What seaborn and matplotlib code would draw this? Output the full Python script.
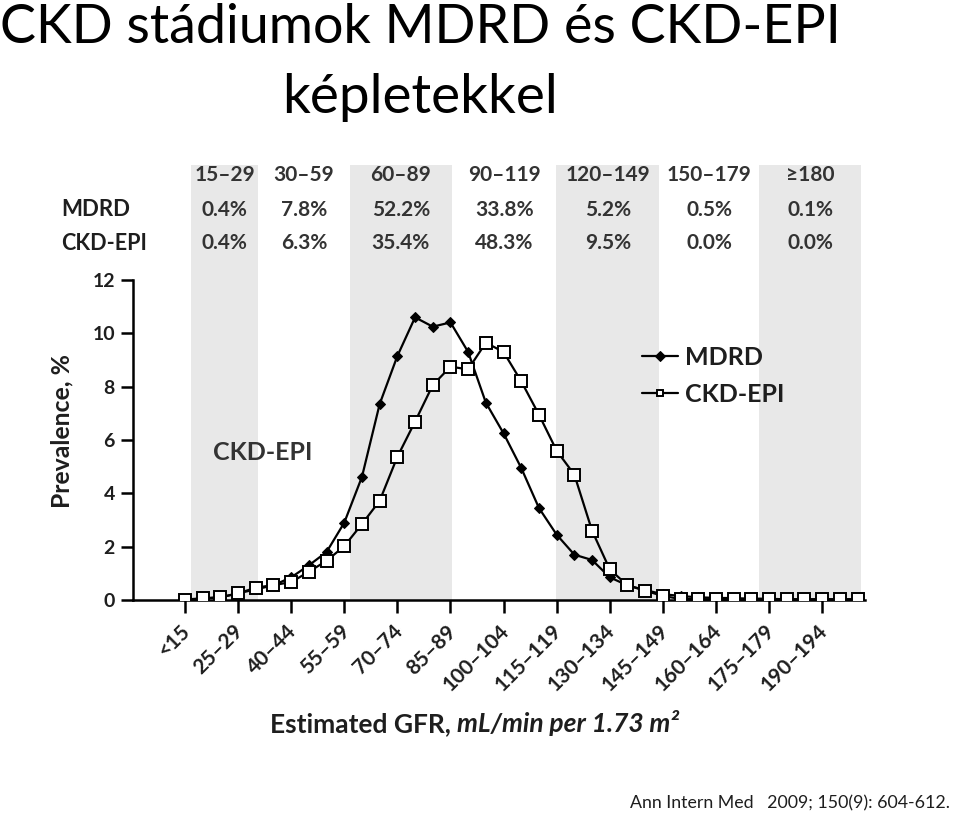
import matplotlib
matplotlib.use("Agg")
import matplotlib.pyplot as plt
import matplotlib.transforms as mtransforms
import numpy as np
import pandas as pd
import seaborn as sns

# ---------------- data ----------------
bin_index = list(range(39))
mdrd = [0.02, 0.06, 0.10, 0.25, 0.40, 0.55, 0.85, 1.30, 1.80, 2.90,
        4.62, 7.35, 9.15, 10.60, 10.25, 10.41,
        9.30, 7.40, 6.25, 4.95, 3.45, 2.45,
        1.70, 1.50, 0.85, 0.55, 0.37, 0.22,
        0.15, 0.10, 0.08, 0.07, 0.05, 0.05,
        0.02, 0.02, 0.02, 0.02, 0.02]
ckd_epi = [0.00, 0.06, 0.10, 0.25, 0.46, 0.56, 0.67, 1.06, 1.47, 2.02,
           2.85, 3.72, 5.37, 6.69, 8.06, 8.75,
           8.65, 9.65, 9.30, 8.20, 6.95, 5.60,
           4.70, 2.60, 1.15, 0.55, 0.35, 0.15,
           0.04, 0.03, 0.03, 0.03, 0.03, 0.03,
           0.03, 0.03, 0.03, 0.03, 0.03]
tick_positions = [0, 3, 6, 9, 12, 15, 18, 21, 24, 27, 30, 33, 36]
tick_labels = ["<15", "25–29", "40–44", "55–59", "70–74", "85–89", "100–104",
               "115–119", "130–134", "145–149", "160–164", "175–179", "190–194"]
y_ticks = [0, 2, 4, 6, 8, 10, 12]

stage_labels = ["15–29", "30–59", "60–89", "90–119", "120–149", "150–179", "≥180"]
mdrd_pct = ["0.4%", "7.8%", "52.2%", "33.8%", "5.2%", "0.5%", "0.1%"]
ckd_pct = ["0.4%", "6.3%", "35.4%", "48.3%", "9.5%", "0.0%", "0.0%"]
# stage column boundaries on the bin-index axis
stage_bounds = [0.34, 4.12, 9.31, 15.07, 20.99, 26.81, 32.45, 38.21]
shaded_stages = [0, 2, 4, 6]

df = pd.DataFrame({"bin": bin_index * 2,
                   "prev": mdrd + ckd_epi,
                   "method": ["MDRD"] * len(mdrd) + ["CKD-EPI"] * len(ckd_epi)})

# ---------------- style ----------------
sns.set_theme(style="white")
plt.rcParams["font.family"] = ["Lato", "DejaVu Sans"]
TXT = "#1e1e1e"
GRAY = "#e8e8e8"

fig = plt.figure(figsize=(9.6, 8.14), dpi=100)
ax = fig.add_axes([0.1385, 0.2629, 0.7625, 0.3931])

# shaded stage bands (extend up into the table)
for i in shaded_stages:
    ax.axvspan(stage_bounds[i], stage_bounds[i + 1], ymin=0, ymax=1.359,
               color=GRAY, lw=0, zorder=0, clip_on=False)

sub_m = df[df.method == "MDRD"]
sub_c = df[df.method == "CKD-EPI"]
sns.lineplot(data=sub_m, x="bin", y="prev", ax=ax, color="black", lw=1.6,
             marker="D", markersize=5, markeredgecolor="black",
             markerfacecolor="black", label="MDRD", zorder=3)
sns.lineplot(data=sub_c, x="bin", y="prev", ax=ax, color="black", lw=1.6,
             marker="s", markersize=8, markeredgecolor="black",
             markerfacecolor="white", markeredgewidth=1.4,
             label="CKD-EPI", zorder=4)

ax.set_xlim(-2.94, 38.42)
ax.set_ylim(0, 12)
ax.set_xlabel("")
ax.set_ylabel("")
ax.set_yticks(y_ticks)
ax.set_yticklabels([str(v) for v in y_ticks], fontsize=14, fontweight="bold", color=TXT)
ax.set_xticks(tick_positions)
ax.set_xticklabels(tick_labels, rotation=45, ha="right", rotation_mode="anchor",
                   fontsize=15, fontweight="bold", color=TXT)
ax.tick_params(axis="both", direction="out", length=9, width=1.8, color="black",
               bottom=True, left=True)
ax.tick_params(axis="x", pad=4)
ax.tick_params(axis="y", pad=4)
offset = mtransforms.ScaledTranslation(-0.05, -0.03, fig.dpi_scale_trans)
for lbl in ax.get_xticklabels():
    lbl.set_transform(lbl.get_transform() + offset)
for s in ["top", "right"]:
    ax.spines[s].set_visible(False)
for s in ["left", "bottom"]:
    ax.spines[s].set_color("black")
    ax.spines[s].set_linewidth(1.8)
ax.patch.set_alpha(0)

leg = ax.legend(loc="center left", bbox_to_anchor=(0.695, 0.70), frameon=False,
                prop={"size": 18, "weight": "bold"}, handlelength=1.45,
                handletextpad=0.3, labelspacing=0.55, borderpad=0, borderaxespad=0)
for t in leg.get_texts():
    t.set_color(TXT)
for h in leg.legend_handles:
    h.set_markersize(5)

ax.text(0.11, 0.46, "CKD-EPI", transform=ax.transAxes, fontsize=18,
        fontweight="bold", color="#333333", ha="left", va="center")

# table above plot
trans = mtransforms.blended_transform_factory(ax.transData, ax.transAxes)
for i, lab in enumerate(stage_labels):
    cx = (stage_bounds[i] + stage_bounds[i + 1]) / 2
    ax.text(cx, 1.328, lab, transform=trans, ha="center", va="center",
            fontsize=15, fontweight="bold", color="#333333")
    ax.text(cx, 1.219, mdrd_pct[i], transform=trans, ha="center", va="center",
            fontsize=15, fontweight="bold", color="#333333")
    ax.text(cx, 1.116, ckd_pct[i], transform=trans, ha="center", va="center",
            fontsize=15, fontweight="bold", color="#333333")
fig.text(0.064, 1 - 210 / 814, "MDRD", ha="left", va="center", fontsize=16,
         fontweight="bold", color=TXT)
fig.text(0.064, 1 - 243 / 814, "CKD-EPI", ha="left", va="center", fontsize=15.5,
         fontweight="bold", color=TXT)

# axis labels
fig.text(0.0646, 0.4705, "Prevalence, %", rotation=90, ha="center", va="center",
         fontsize=17.8, fontweight="bold", color=TXT)
fig.canvas.draw()
r = fig.canvas.get_renderer()
t1 = fig.text(270 / 960, 0.1007, "Estimated GFR, ", ha="left", va="baseline",
              fontsize=19, fontweight="bold", color=TXT)
bb = t1.get_window_extent(renderer=r)
fig.text(bb.x1 / fig.bbox.width, 0.1007, "mL/min per 1.73 m²", ha="left",
         va="baseline", fontsize=19, fontweight="bold", fontstyle="italic", color=TXT)

# title
fig.text(0.0, 1 - 43 / 814, "CKD stádiumok MDRD és CKD-EPI", ha="left",
         va="baseline", fontsize=38.8, color="black")
fig.text(0.4375, 1 - 113 / 814, "képletekkel", ha="center", va="baseline",
         fontsize=39.5, color="black")

fig.text(630 / 960, 1 - 808 / 814, "Ann Intern Med   2009; 150(9): 604-612.",
         ha="left", va="baseline", fontsize=12.8, color=TXT)

fig.savefig("out.png", dpi=100)
